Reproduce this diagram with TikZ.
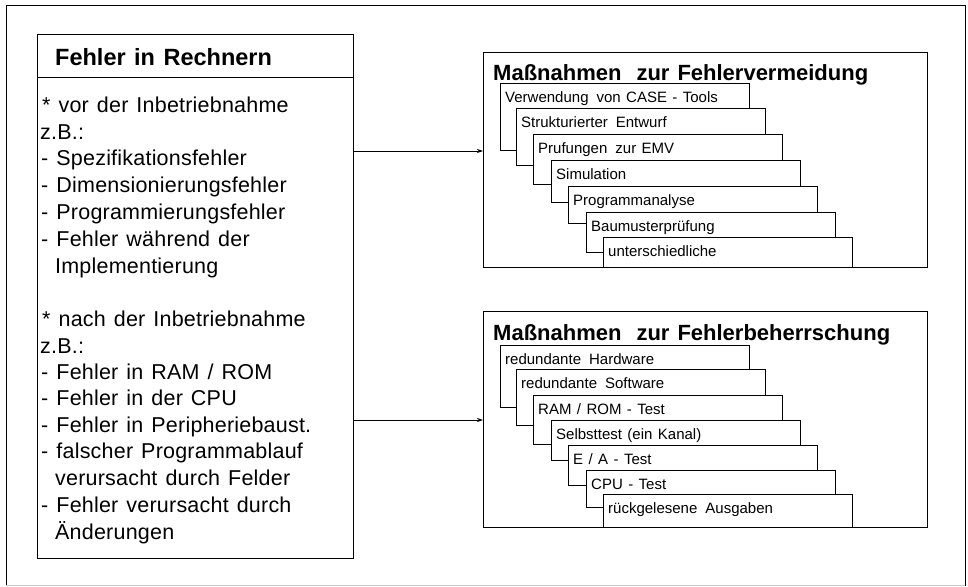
\documentclass[tikz,border=0pt]{standalone}
\usepackage{fontspec}
\setmainfont{Liberation Sans}[WordSpace=1.3]
\newfontfamily\leftfont{Liberation Sans}[WordSpace=1.3,LetterSpace=1]
\usetikzlibrary{arrows.meta}
\begin{document}
\begin{tikzpicture}[x=1pt,y=-1pt,
  frame/.style={draw, line width=0.9pt, anchor=north west, inner sep=0pt},
  stair/.style={draw, line width=0.7pt, fill=white, anchor=north west, minimum width=249pt, inner sep=0pt},
  stairtxt/.style={anchor=base west, inner sep=0pt, font=\fontsize{15}{15}\selectfont},
  ltxt/.style={anchor=base west, inner sep=0pt, font=\leftfont\fontsize{21.5}{21.5}\selectfont},
  ttl/.style={anchor=base west, inner sep=0pt, font=\fontsize{22}{22}\selectfont\bfseries},
  conn/.style={line width=0.8pt, -{Stealth[length=6pt,width=4pt]}}
]
\useasboundingbox (0,0) rectangle (968,586);
% outer frame
\draw[line width=0.8pt] (6,586) -- (6,5) -- (965,5) -- (965,586);
\draw[line width=0.8pt, gray!40] (6,585) -- (965,585);

% left box
\node[frame, line width=1pt, minimum width=316pt, minimum height=524pt] (fehler) at (37,34) {};
\coordinate (sep) at (0,77);
\draw[line width=0.8pt] (fehler.west |- sep) -- (fehler.east |- sep);
\node[ttl, font=\fontsize{23.5}{23.5}\selectfont\bfseries] (t0) at (55,65.5) {Fehler in Rechnern};
\node[ltxt] (l1) at (42,112.5) {* vor der Inbetriebnahme};
\node[ltxt] (l2) at (40,139.5) {z.B.:};
\node[ltxt] (l3) at (41,165.5) {- Spezifikationsfehler};
\node[ltxt] (l4) at (41,192.5) {- Dimensionierungsfehler};
\node[ltxt] (l5) at (41,219.5) {- Programmierungsfehler};
\node[ltxt] (l6) at (41,246.5) {- Fehler während der};
\node[ltxt] (l7) at (55,273.5) {Implementierung};
\node[ltxt] (l8) at (42,326.5) {* nach der Inbetriebnahme};
\node[ltxt] (l9) at (40,353.5) {z.B.:};
\node[ltxt] (l10) at (41,379.5) {- Fehler in RAM / ROM};
\node[ltxt] (l11) at (41,405.5) {- Fehler in der CPU};
\node[ltxt] (l12) at (41,432.5) {- Fehler in Peripheriebaust.};
\node[ltxt] (l13) at (41,458.5) {- falscher Programmablauf};
\node[ltxt] (l14) at (55,485.5) {verursacht durch Felder};
\node[ltxt] (l15) at (41,512.5) {- Fehler verursacht durch};
\node[ltxt] (l16) at (55,539.5) {Änderungen};

% frame Fehlervermeidung
\node[frame, minimum width=444pt, minimum height=215pt] (vermeid) at (483,52) {};
\node[ttl] (t1) at (493,80) {Maßnahmen\hspace{15pt}zur Fehlervermeidung};
\node[stair, minimum height=67pt] (v1) at (500,83) {};
\node[stair, minimum height=57pt] (v2) at (516,108) {};
\node[stair, minimum height=50pt] (v3) at (533,134) {};
\node[stair, minimum height=42pt] (v4) at (551,160) {};
\node[stair, minimum height=37pt] (v5) at (568,186) {};
\node[stair, minimum height=40pt] (v6) at (586,212) {};
\node[stair, minimum height=30pt] (v7) at (603,237) {};
\node[stairtxt] at ([xshift=5pt,yshift=-19.5pt]v1.north west) {Verwendung\hspace{8pt}von CASE - Tools};
\node[stairtxt] at ([xshift=5pt,yshift=-19.5pt]v2.north west) {Strukturierter\hspace{8pt}Entwurf};
\node[stairtxt] at ([xshift=5pt,yshift=-19.5pt]v3.north west) {Prufungen\hspace{8pt}zur EMV};
\node[stairtxt] at ([xshift=5pt,yshift=-19.5pt]v4.north west) {Simulation};
\node[stairtxt] at ([xshift=5pt,yshift=-19.5pt]v5.north west) {Programmanalyse};
\node[stairtxt] at ([xshift=5pt,yshift=-19.5pt]v6.north west) {Baumusterprüfung};
\node[stairtxt] at ([xshift=5pt,yshift=-19.5pt]v7.north west) {unterschiedliche};
\draw[line width=0.9pt] (vermeid.south west) -- (vermeid.south east);

% frame Fehlerbeherrschung
\node[frame, minimum width=444pt, minimum height=216pt] (beherr) at (483,311) {};
\node[ttl] (t2) at (493,340) {Maßnahmen\hspace{15pt}zur Fehlerbeherrschung};
\node[stair, minimum height=62pt] (b1) at (500,345) {};
\node[stair, minimum height=56pt] (b2) at (516,369) {};
\node[stair, minimum height=49pt] (b3) at (533,395) {};
\node[stair, minimum height=40pt] (b4) at (551,420) {};
\node[stair, minimum height=40pt] (b5) at (568,445) {};
\node[stair, minimum height=37pt] (b6) at (586,470) {};
\node[stair, minimum height=33pt] (b7) at (603,494) {};
\node[stairtxt] at ([xshift=5pt,yshift=-19.5pt]b1.north west) {redundante\hspace{8pt}Hardware};
\node[stairtxt] at ([xshift=5pt,yshift=-19.5pt]b2.north west) {redundante\hspace{8pt}Software};
\node[stairtxt] at ([xshift=5pt,yshift=-19.5pt]b3.north west) {RAM / ROM - Test};
\node[stairtxt] at ([xshift=5pt,yshift=-19.5pt]b4.north west) {Selbsttest (ein Kanal)};
\node[stairtxt] at ([xshift=5pt,yshift=-19.5pt]b5.north west) {E / A - Test};
\node[stairtxt] at ([xshift=5pt,yshift=-19.5pt]b6.north west) {CPU - Test};
\node[stairtxt] at ([xshift=5pt,yshift=-19.5pt]b7.north west) {rückgelesene\hspace{8pt}Ausgaben};
\draw[line width=0.9pt] (beherr.south west) -- (beherr.south east);

% connectors
\coordinate (a1) at (0,151);
\coordinate (a2) at (0,420);
\draw[conn] (fehler.east |- a1) -- (vermeid.west |- a1);
\draw[conn] (fehler.east |- a2) -- (beherr.west |- a2);
\end{tikzpicture}
\end{document}
